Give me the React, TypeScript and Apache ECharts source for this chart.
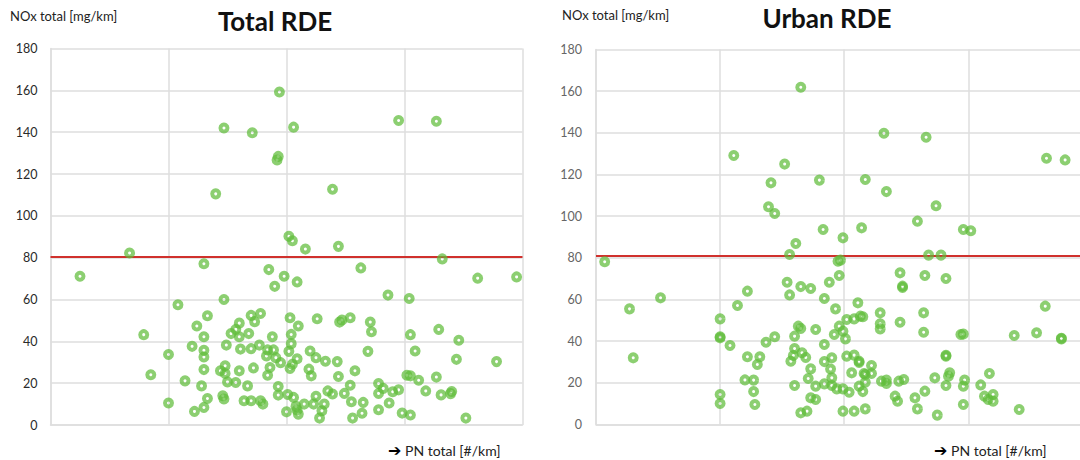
import React, { useEffect, useRef } from "react";
import * as echarts from "echarts";

// Relative PN position (grid units, axis has no labels) and NOx total [mg/km]
const TOTAL_PN = [
  1.94, 1.47, 1.71, 2.06, 1.93, 1.92, 2.95, 3.27, 1.40, 2.39, 2.02, 2.05, 2.16, 2.44, 0.67, 3.32,
  0.25, 1.30, 1.85, 1.98, 1.90, 2.09, 2.63, 3.62, 3.95, 2.86, 3.04, 1.47, 1.08, 0.79, 1.00, 0.85,
  1.00, 1.14, 1.22, 1.30, 1.33, 1.28, 1.30, 1.30, 1.30, 1.30, 1.24, 1.33, 1.20, 1.46, 1.47, 1.44,
  1.48, 1.48, 1.50, 1.57, 1.60, 1.67, 1.49, 1.53, 1.57, 1.60, 1.60, 1.61, 1.68, 1.64, 1.70, 1.78,
  1.80, 1.70, 1.72, 1.70, 1.73, 1.78, 1.77, 1.84, 1.86, 1.88, 1.84, 1.89, 1.83, 1.91, 1.95, 1.93,
  1.93, 2.00, 2.03, 2.04, 2.04, 2.02, 2.03, 2.05, 2.09, 2.10, 2.01, 2.06, 2.08, 2.10, 2.15, 2.20,
  2.19, 2.21, 2.25, 2.26, 2.25, 2.23, 2.30, 2.28, 2.32, 2.33, 2.43, 2.35, 2.39, 2.44, 2.45, 2.47,
  2.54, 2.49, 2.54, 2.55, 2.56, 2.58, 2.65, 2.64, 2.69, 2.71, 2.72, 2.78, 2.78, 2.82, 2.78, 2.87,
  2.90, 2.95, 2.98, 3.05, 3.02, 3.05, 3.05, 3.09, 3.12, 3.18, 3.27, 3.29, 3.31, 3.40, 3.39, 3.44,
  3.46, 3.52, 3.78, 2.09,
];
const TOTAL_NOX = [
  159.2, 142.0, 139.7, 142.4, 128.4, 126.7, 145.6, 145.2, 110.5, 112.7, 90.2, 88.1, 84.1, 85.4, 82.2, 79.4,
  71.1, 77.1, 74.3, 71.1, 66.3, 68.4, 75.1, 70.2, 70.8, 62.1, 60.5, 60.0, 57.5, 43.2, 33.7, 24.0,
  10.5, 21.1, 6.5, 8.4, 12.7, 18.7, 26.5, 32.5, 35.7, 42.2, 47.3, 52.2, 37.6, 14.0, 12.4, 25.9,
  28.3, 24.6, 20.6, 20.3, 25.9, 18.7, 38.2, 43.7, 45.7, 48.7, 42.2, 36.3, 43.7, 11.6, 11.6, 11.6,
  10.0, 36.5, 27.3, 52.4, 49.4, 53.3, 38.2, 23.8, 27.5, 42.2, 35.9, 35.9, 33.0, 32.2, 29.8, 18.4,
  14.3, 6.3, 51.3, 43.3, 38.9, 35.2, 27.0, 29.0, 31.7, 47.3, 14.6, 13.2, 8.9, 5.2, 10.0, 35.4,
  26.7, 23.5, 32.2, 50.8, 13.7, 10.0, 6.8, 3.3, 10.0, 30.5, 30.3, 16.3, 14.8, 23.2, 49.2, 50.2,
  51.3, 15.1, 19.0, 11.1, 3.3, 25.9, 10.8, 5.6, 35.2, 49.2, 44.6, 19.8, 15.1, 17.5, 7.3, 10.5,
  15.9, 16.8, 5.7, 4.8, 23.8, 23.5, 43.2, 35.4, 21.4, 16.3, 22.9, 45.7, 14.4, 16.0, 15.0, 31.4,
  40.5, 3.3, 30.3, 7.2,
];

const URBAN_PN = [
  1.65, 2.32, 2.66, 1.11, 1.52, 1.41, 1.80, 2.17, 2.34, 1.39, 1.44, 2.74, 2.59, 3.63, 3.78, 1.83,
  2.14, 2.96, 3.02, 1.61, 1.99, 1.56, 0.07, 1.95, 1.97, 2.68, 2.78, 2.45, 2.65, 1.96, 2.82, 1.54,
  1.88, 2.47, 2.47, 1.65, 1.73, 1.56, 1.84, 1.22, 1.14, 0.27, 0.52, 0.30, 1.00, 1.00, 1.00, 1.08,
  1.22, 1.32, 1.30, 1.20, 1.27, 1.27, 1.28, 1.00, 1.00, 1.37, 1.44, 1.60, 1.63, 1.65, 1.77, 1.60,
  1.59, 1.66, 1.57, 1.69, 1.60, 1.71, 1.73, 1.73, 1.77, 1.77, 1.84, 1.84, 1.84, 1.89, 1.90, 1.90,
  1.90, 1.93, 1.96, 1.92, 1.99, 2.01, 1.94, 1.99, 1.65, 1.70, 1.99, 2.08, 2.17, 2.02, 2.08, 2.11,
  2.13, 2.15, 2.02, 2.08, 2.12, 2.12, 2.06, 2.16, 2.17, 2.22, 2.22, 2.17, 2.04, 2.12, 2.15, 2.29,
  2.29, 2.29, 2.30, 2.34, 2.34, 2.41, 2.43, 2.45, 2.44, 2.48, 2.57, 2.59, 2.64, 2.64, 2.65, 2.73,
  2.75, 2.82, 2.82, 2.82, 2.84, 2.85, 2.94, 2.96, 2.97, 2.96, 2.96, 3.10, 3.13, 3.16, 3.20, 3.20,
  3.17, 3.37, 3.41, 3.55, 3.62, 3.75, 3.75,
];
const URBAN_NOX = [
  161.9, 139.8, 137.9, 129.1, 125.0, 116.0, 117.3, 117.6, 111.8, 104.5, 101.3, 105.0, 97.6, 127.8, 127.0, 93.6,
  94.4, 93.6, 93.0, 86.9, 89.6, 81.6, 78.1, 78.4, 78.9, 81.3, 81.3, 72.8, 71.5, 71.5, 70.1, 68.3,
  68.3, 66.4, 65.8, 66.2, 65.3, 62.2, 60.5, 64.0, 57.1, 55.5, 60.8, 32.0, 50.7, 42.1, 41.6, 37.9,
  32.5, 32.5, 28.8, 21.4, 21.3, 15.8, 9.6, 14.4, 10.1, 39.5, 42.1, 42.4, 47.2, 46.1, 45.6, 36.5,
  33.1, 34.4, 30.4, 32.2, 18.7, 22.1, 26.7, 12.8, 12.0, 18.4, 38.4, 30.2, 19.5, 26.6, 32.0, 22.4,
  18.7, 55.5, 47.2, 43.2, 44.8, 41.1, 17.1, 17.1, 5.6, 6.4, 6.4, 6.4, 7.5, 50.4, 50.7, 58.4,
  52.0, 51.7, 32.8, 33.3, 30.4, 29.8, 24.8, 24.5, 24.0, 28.3, 24.5, 20.3, 15.5, 18.4, 15.8, 53.6,
  48.3, 45.9, 20.8, 19.7, 21.3, 13.6, 11.2, 49.1, 20.8, 21.6, 12.8, 7.5, 53.6, 44.3, 16.0, 22.4,
  4.5, 32.8, 33.2, 18.7, 23.2, 24.8, 43.2, 43.4, 21.3, 18.4, 9.6, 19.0, 13.6, 12.0, 14.4, 11.2,
  24.5, 42.7, 7.2, 44.0, 56.8, 41.1, 41.4,
];

const Y_TICKS = { min: 0, max: 180, interval: 20 };
// visible PN extent of each panel (the urban panel is cut off at the right edge)
const X_MAX = [4, 3.9];
const X_INTERVAL = 1;
const LIMITS = [80.5, 81];
const TITLES = ["Total RDE", "Urban RDE"];
const Y_NAME = "NOx total [mg/km]";
const X_ARROW = "\u2794";
const X_NAME = "PN total [#/km]";

const GREEN = "rgba(96,188,58,0.9)";
const GRID_COLOR = "#dedede";
const FONT = "Lato, 'Open Sans', 'DejaVu Sans', sans-serif";

function pairs(xs: number[], ys: number[]) {
  return xs.map((x, i) => [x, ys[i]]);
}

export default function App() {
  const ref = useRef<HTMLDivElement>(null);
  useEffect(() => {
    if (!ref.current) return;
    const chart = echarts.init(ref.current, null, { renderer: "svg" });
    const grids = [
      { left: 50.5, top: 48.5, width: 472, height: 376.5 },
      { left: 596, top: 49.5, width: 484, height: 375 },
    ];
    const labelColors = ["#2a2a2a", "#666666"];
    const bottomLabelX = [388, 934];
    const bottomLabelY = [450.5, 450];
    const option: any = {
      animation: false,
      backgroundColor: "#ffffff",
      grid: grids,
      xAxis: grids.map((_, i) => ({
        type: "value",
        gridIndex: i,
        min: 0,
        max: X_MAX[i],
        interval: X_INTERVAL,
        axisLabel: { show: false },
        axisTick: { show: false },
        axisLine: { show: true, lineStyle: { color: GRID_COLOR, width: 1.5 } },
        splitLine: {
          show: true,
          showMaxLine: i === 0,
          lineStyle: { color: GRID_COLOR, width: 1.5 },
        },
      })),
      yAxis: grids.map((_, i) => ({
        type: "value",
        gridIndex: i,
        ...Y_TICKS,
        axisLabel: {
          color: labelColors[i],
          fontFamily: FONT,
          fontSize: 12.5,
          margin: i === 0 ? 13 : 14,
        },
        axisTick: { show: false },
        axisLine: { show: true, lineStyle: { color: GRID_COLOR, width: 1.5 } },
        splitLine: { show: true, lineStyle: { color: GRID_COLOR, width: 1.5 } },
      })),
      series: [
        [TOTAL_PN, TOTAL_NOX],
        [URBAN_PN, URBAN_NOX],
      ].map(([xs, ys], i) => ({
        type: "scatter",
        xAxisIndex: i,
        yAxisIndex: i,
        symbol: "circle",
        symbolSize: 7,
        itemStyle: {
          color: "rgba(255,255,255,0)",
          borderColor: GREEN,
          borderWidth: 4,
        },
        data: pairs(xs, ys),
        markLine: {
          silent: true,
          symbol: "none",
          label: { show: false },
          lineStyle: { color: "#d0312d", width: 2, type: "solid" },
          data: [{ yAxis: LIMITS[i] }],
          z: 1,
        },
        z: 3,
      })),
      graphic: [
        ...[10, 562].map((x, i) => ({
          type: "text",
          left: x,
          top: i === 0 ? 9 : 8,
          style: { text: Y_NAME, font: `13px ${FONT}`, fill: "#222" },
        })),
        ...[
          [275, 21],
          [827, 18],
        ].map(([x, y], i) => ({
          type: "text",
          x,
          y,
          style: {
            text: TITLES[i],
            font: `bold 26px ${FONT}`,
            fill: "#111",
            align: "center",
            verticalAlign: "middle",
          },
        })),
        ...bottomLabelX.map((x, i) => ({
          type: "text",
          x,
          y: bottomLabelY[i],
          style: {
            text: `{a|${X_ARROW}}{b| ${X_NAME}}`,
            verticalAlign: "middle",
            rich: {
              a: {
                font: `bold 16px 'DejaVu Sans', sans-serif`,
                fill: "#000",
                verticalAlign: "middle",
              },
              b: {
                font: `14px ${FONT}`,
                fill: "#222",
                verticalAlign: "middle",
              },
            },
          },
        })),
      ],
    };
    chart.setOption(option);
    return () => chart.dispose();
  }, []);
  return (
    <div
      ref={ref}
      style={{ position: "absolute", left: 0, top: 0, width: 1080, height: 460, background: "#fff" }}
    />
  );
}
